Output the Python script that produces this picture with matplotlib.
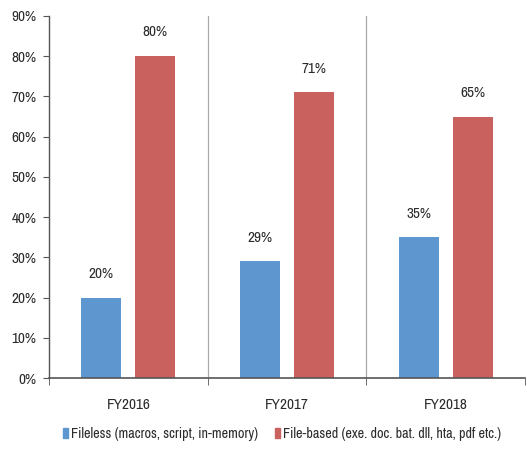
import matplotlib
matplotlib.use("Agg")
import matplotlib.pyplot as plt
import numpy as np
from matplotlib.patches import Patch

categories = ["FY2016", "FY2017", "FY2018"]
fileless = [20, 29, 35]
file_based = [80, 71, 65]
series_names = ["Fileless (macros, script, in-memory)", "File-based (exe. doc. bat. dll, hta, pdf etc.)"]
yticks = list(range(0, 100, 10))

plt.rcParams['font.family'] = ['Archivo Narrow', 'PT Sans Narrow', 'DejaVu Sans']

blue = '#5E96D0'
red = '#C9625E'
txt = '#2b2b2b'

W, H = 527, 468
fig = plt.figure(figsize=(W / 100, H / 100), dpi=100)
ax = fig.add_axes([0.093, 0.192, 0.903, 0.774])

x = np.arange(len(categories))
w = 0.252
off = 0.17
b1 = ax.bar(x - off, fileless, w, color=blue)
b2 = ax.bar(x + off, file_based, w, color=red)

for bars, vals in ((b1, fileless), (b2, file_based)):
    for rect, v in zip(bars, vals):
        ax.annotate(f"{v}%", (rect.get_x() + rect.get_width() / 2, v),
                    xytext=(0, 12), textcoords='offset points',
                    ha='center', va='bottom', fontsize=11, color=txt)

ax.set_xlim(-0.5, 2.5)
ax.set_ylim(0, 90)
ax.set_yticks(yticks)
ax.set_yticklabels([f"{t}%" for t in yticks], fontsize=11, color=txt)
ax.set_xticks(x)
ax.set_xticklabels(categories, fontsize=11, color=txt)
ax.tick_params(axis='x', length=0, pad=14)
ax.tick_params(axis='y', length=4, direction='out', color='#555555', pad=5)
ax.set_xticks([-0.5, 0.5, 1.5, 2.5], minor=True)
ax.tick_params(axis='x', which='minor', length=5, direction='out', color='#555555')

for b in [0.5, 1.5]:
    ax.axvline(b, color='#aaaaaa', lw=0.9, zorder=0)

for s in ['top', 'right']:
    ax.spines[s].set_visible(False)
ax.spines['left'].set_color('#555555')
ax.spines['bottom'].set_color('#555555')
ax.spines['left'].set_linewidth(1.0)
ax.spines['bottom'].set_linewidth(1.2)

colors = [blue, red]
anchors = [50 / W, 262 / W]
for c, name, xa in zip(colors, series_names, anchors):
    leg = fig.legend([Patch(color=c)], [name], loc='center left',
                     bbox_to_anchor=(xa, 1 - 434 / H), frameon=False, fontsize=10.2,
                     handlelength=0.35, handleheight=0.8, handletextpad=0.25,
                     labelcolor=txt)

fig.savefig("out.png", dpi=100)
